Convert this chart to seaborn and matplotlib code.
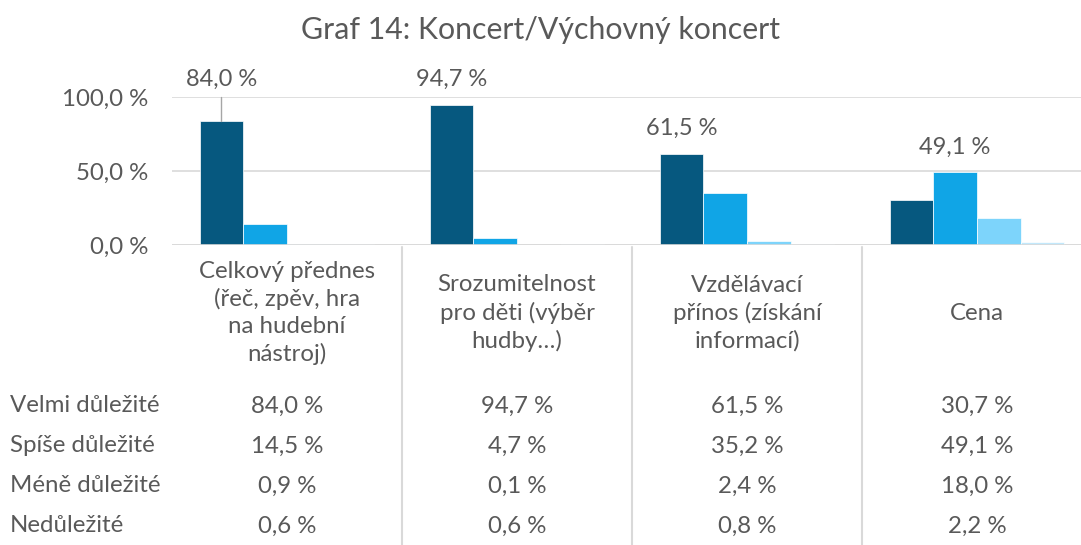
import pandas as pd
import seaborn as sns
import matplotlib.pyplot as plt
from matplotlib.transforms import blended_transform_factory

kategorie = ['Celkový přednes\n(řeč, zpěv, hra\nna hudební\nnástroj)',
             'Srozumitelnost\npro děti (výběr\nhudby…)',
             'Vzdělávací\npřínos (získání\ninformací)',
             'Cena']
urovne = ['Velmi důležité', 'Spíše důležité', 'Méně důležité', 'Nedůležité']
velmi = [84.0, 94.7, 61.5, 30.7]
spise = [14.5, 4.7, 35.2, 49.1]
mene = [0.9, 0.1, 2.4, 18.0]
nedulezite = [0.6, 0.6, 0.8, 2.2]
barvy = ['#06587F', '#10A5E6', '#7DD4FB', '#C2E8FB']

hodnoty = [velmi, spise, mene, nedulezite]
df = pd.DataFrame({
    'kategorie': [k for _ in urovne for k in kategorie],
    'uroven': [u for u in urovne for _ in kategorie],
    'hodnota': [v for h in hodnoty for v in h],
})

def fmt(v):
    return f'{v:.1f} %'.replace('.', ',')

sns.set_style('white')
plt.rcParams['font.family'] = ['Lato', 'DejaVu Sans']
seda = '#595959'

fig = plt.figure(figsize=(10.81, 5.45), dpi=100)
ax = fig.add_axes([172 / 1081, 300 / 545, 920 / 1081, 148 / 545])

sns.barplot(data=df, x='kategorie', y='hodnota', hue='uroven', palette=barvy,
            width=0.76, dodge=True, ax=ax, legend=False, saturation=1,
            edgecolor='white', linewidth=0.5)

ax.set_xlim(-0.5, 3.5)
ax.set_ylim(0, 100)
ax.set_yticks([0, 50, 100])
ax.set_yticklabels([fmt(v) for v in [0, 50, 100]], color=seda, fontsize=17.3)
ax.tick_params(axis='y', length=0, pad=17)
ax.set_xticks([])
ax.set_xlabel('')
ax.set_ylabel('')
ax.yaxis.grid(True, color='#D9D9D9', linewidth=1.2)
ax.set_axisbelow(True)
for s in ax.spines.values():
    s.set_visible(False)
ax.axhline(0, color='#D9D9D9', linewidth=1.2, zorder=3)

# popisky jen u nejvyssi hodnoty v kategorii
for i in range(len(kategorie)):
    vals = [h[i] for h in hodnoty]
    j = vals.index(max(vals))
    bar = ax.containers[j][i]
    x = bar.get_x() + bar.get_width() / 2
    top = bar.get_height()
    if i == 0:
        ax.plot([x, x], [top, 100], color='#A6A6A6', linewidth=1, clip_on=False)
        ax.text(x, 112, fmt(top), ha='center', va='center', fontsize=17,
                color=seda, clip_on=False)
    else:
        ax.text(x, top + 17, fmt(top), ha='center', va='center', fontsize=17,
                color=seda, clip_on=False)

fig.text(0.5, 1 - 30 / 545, 'Graf 14: Koncert/Výchovný koncert', ha='center',
         va='center', fontsize=21.8, color=seda)

# datova tabulka pod grafem
tr = blended_transform_factory(ax.transData, fig.transFigure)
for i, k in enumerate(kategorie):
    ax.text(i, 1 - 313 / 545, k, transform=tr, ha='center', va='center',
            fontsize=17.3, color=seda, linespacing=1.33)
    for r, h in enumerate(hodnoty):
        ax.text(i, 1 - (406 + 40 * r) / 545, fmt(h[i]), transform=tr,
                ha='center', va='center', fontsize=17.3, color=seda)
for r, u in enumerate(urovne):
    fig.text(10 / 1081, 1 - (406 + 40 * r) / 545, u, ha='left', va='center',
             fontsize=17.3, color=seda)
for i in range(1, len(kategorie)):
    ax.plot([i - 0.5, i - 0.5], [1 - 247 / 545, 0], transform=tr,
            color='#D9D9D9', linewidth=1.5, clip_on=False)

fig.savefig('out.png', dpi=100)
